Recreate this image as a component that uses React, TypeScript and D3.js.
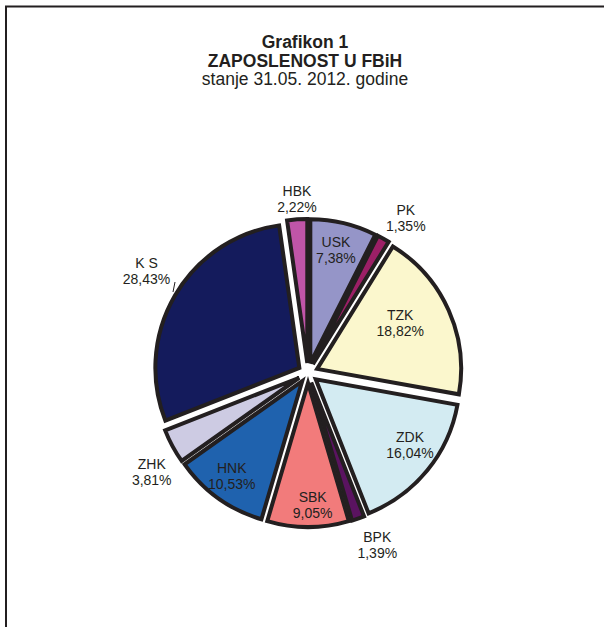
import React from "react";
import * as d3 from "d3";

const categories = ["USK", "PK", "TZK", "ZDK", "BPK", "SBK", "HNK", "ZHK", "K S", "HBK"];
const values = [7.38, 1.35, 18.82, 16.04, 1.39, 9.05, 10.53, 3.81, 28.43, 2.22];
const valueLabels = ["7,38%", "1,35%", "18,82%", "16,04%", "1,39%", "9,05%", "10,53%", "3,81%", "28,43%", "2,22%"];
const colors = ["#9595c8", "#9c1f66", "#fbf7cd", "#d3ebf2", "#5a1360", "#f27b7b", "#1f62ae", "#cdcbe3", "#141b5c", "#c055a8"];
const titleLines = ["Grafikon 1", "ZAPOSLENOST U FBiH", "stanje 31.05. 2012. godine"];

// label layout: radius from centre and angular tweak (degrees)
const labelRadius = [126, 183, 105, 125, 185, 132, 128, 185, 191, 174];
const labelAngleTweak = [-0.6, 3, -4.5, -4, -3, -2, 1, -4, 2, 0.4];

const W = 604;
const H = 627;
const cx = 308;
const cy = 373;
const R = 144;
const EXPLODE = 10;
const INK = "#231f20";
const FONT = "'Liberation Sans', Arial, sans-serif";

export default function App() {
  const pie = d3.pie<number>().sort(null).value((d) => d);
  const arcs = pie(values);
  const arcGen = d3.arc<d3.PieArcDatum<number>>().innerRadius(0).outerRadius(R);

  return (
    <svg
      width={W}
      height={H}
      style={{ position: "absolute", left: 0, top: 0, background: "#fff" }}
      fontFamily={FONT}
    >
      <rect x={0} y={0} width={W} height={H} fill="#fff" />
      <rect x={6} y={6.5} width={W + 50} height={H + 50} fill="none" stroke={INK} strokeWidth={2} />
      {titleLines.map((t, i) => (
        <text
          key={t}
          x={305}
          y={48 + i * 18.5}
          textAnchor="middle"
          fontSize={17.5}
          fontWeight={i < 2 ? "bold" : "normal"}
          fill={INK}
        >
          {t}
        </text>
      ))}
      <g transform={`translate(${cx},${cy})`}>
        {arcs.map((a, i) => {
          const mid = (a.startAngle + a.endAngle) / 2;
          const dx = Math.sin(mid) * EXPLODE;
          const dy = -Math.cos(mid) * EXPLODE;
          return (
            <path
              key={categories[i]}
              d={arcGen(a) || ""}
              transform={`translate(${dx},${dy})`}
              fill={colors[i]}
              stroke={INK}
              strokeWidth={4}
              strokeLinejoin="miter"
            />
          );
        })}
        <line x1={-133} y1={-91} x2={-135} y2={-81} stroke={INK} strokeWidth={1} />
        {arcs.map((a, i) => {
          const mid = (a.startAngle + a.endAngle) / 2 + (labelAngleTweak[i] * Math.PI) / 180;
          const lr = labelRadius[i];
          const x = Math.sin(mid) * lr;
          const y = -Math.cos(mid) * lr;
          return (
            <text key={categories[i]} x={x} y={y} textAnchor="middle" fontSize={14} fill={INK}>
              <tspan x={x} dy={-3}>{categories[i]}</tspan>
              <tspan x={x} dy={16}>{valueLabels[i]}</tspan>
            </text>
          );
        })}
      </g>
    </svg>
  );
}
